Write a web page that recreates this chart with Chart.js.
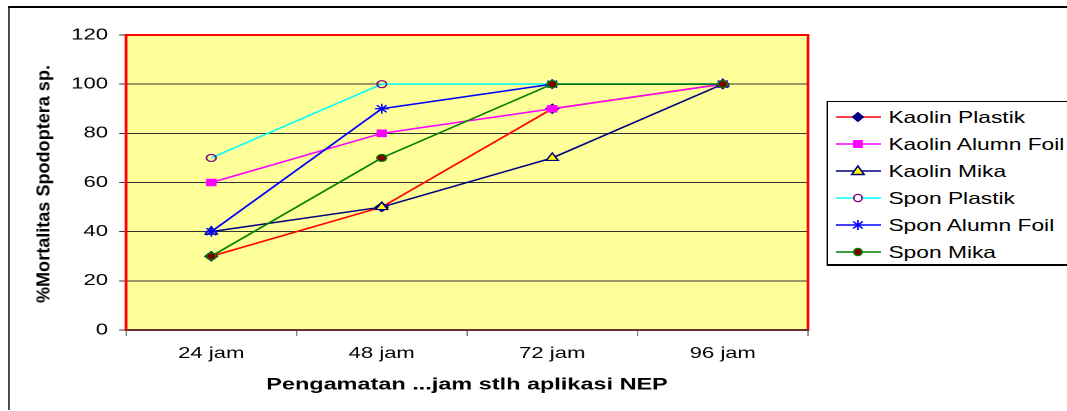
<!DOCTYPE html>
<html>
<head>
<meta charset="utf-8">
<script src="https://cdn.jsdelivr.net/npm/chart.js@4.4.0/dist/chart.umd.min.js"></script>
<style>
  html, body { margin: 0; padding: 0; background: #fff; overflow: hidden; }
  /* the original picture is stretched sideways, so draw narrow and stretch */
  #stage { position: absolute; left: 0; top: 0; width: 773px; height: 411px;
           transform: scaleX(1.38); transform-origin: 0 0;
           font-family: 'Liberation Sans', Arial, sans-serif; color: #000; }
  #frame { position: absolute; left: 5.8px; top: 6px; width: 800px; height: 402px;
           border-top: 2px solid #000; border-left: 1.5px solid #000; }
  #chartBox { position: absolute; left: 0; top: 0; width: 773px; height: 411px; }
  #ytitle { position: absolute; left: 31.2px; top: 184px; white-space: nowrap;
            font-weight: bold; font-size: 13px; line-height: 13px;
            transform: translate(-50%, -50%) rotate(-90deg) scaleX(1.39); }
  #legend { position: absolute; left: 598.6px; top: 101px; width: 200px; height: 162px;
            border: 1px solid #000; border-bottom-width: 2px; background: #fff; }
  .row { position: absolute; left: 0; height: 20px; width: 200px; }
  .row svg { position: absolute; left: 0; top: 0; }
  .row span { position: absolute; left: 44.2px; top: 0; line-height: 20px; font-size: 16.5px; white-space: nowrap; }
</style>
</head>
<body>
<div id="stage">
  <div id="frame"></div>
  <div id="chartBox"><canvas id="mortalitasChart"></canvas></div>
  <div id="ytitle">%Mortalitas Spodoptera sp.</div>
  <div id="legend"></div>
</div>
<script>
  const categories = ["24 jam", "48 jam", "72 jam", "96 jam"];
  const kaolinPlastik = [30, 50, 90, 100];
  const kaolinAlumnFoil = [60, 80, 90, 100];
  const kaolinMika = [40, 50, 70, 100];
  const sponPlastik = [70, 100, 100, 100];
  const sponAlumnFoil = [40, 90, 100, 100];
  const sponMika = [30, 70, 100, 100];
  const yMin = 0, yMax = 120, yStep = 20;

  const seriesList = [
    { name: "Kaolin Plastik", data: kaolinPlastik, line: "#ff0000", style: "rectRot", fill: "#000080", edge: "#000080", r: 4.5 },
    { name: "Kaolin Alumn Foil", data: kaolinAlumnFoil, line: "#ff00ff", style: "rect", fill: "#ff00ff", edge: "#ff00ff", r: 4.5 },
    { name: "Kaolin Mika", data: kaolinMika, line: "#000080", style: "triangle", fill: "#ffff00", edge: "#000080", r: 5 },
    { name: "Spon Plastik", data: sponPlastik, line: "#00ffff", style: "circle", fill: "rgba(0,0,0,0)", edge: "#800080", r: 3.5 },
    { name: "Spon Alumn Foil", data: sponAlumnFoil, line: "#0000ff", style: "star", fill: "#0000ff", edge: "#0000ff", r: 5 },
    { name: "Spon Mika", data: sponMika, line: "#008000", style: "circle", fill: "#800000", edge: "#008000", r: 3.5 },
  ];

  const plotFrame = {
    id: "plotFrame",
    beforeDraw(chart) {
      const { ctx, chartArea: a } = chart;
      ctx.save();
      ctx.fillStyle = "#ffff99";
      ctx.fillRect(a.left, a.top, a.right - a.left, a.bottom - a.top);
      ctx.restore();
    },
    beforeDatasetsDraw(chart) {
      const { ctx, chartArea: a } = chart;
      ctx.save();
      ctx.strokeStyle = "#ff0000";
      ctx.lineWidth = 2;
      ctx.strokeRect(a.left, a.top, a.right - a.left, a.bottom - a.top);
      ctx.strokeStyle = "#404040";
      ctx.lineWidth = 1.5;
      ctx.beginPath();
      ctx.moveTo(a.left, a.bottom);
      ctx.lineTo(a.right + 1, a.bottom);
      ctx.stroke();
      ctx.restore();
    },
  };

  const ctx = document.getElementById("mortalitasChart").getContext("2d");
  new Chart(ctx, {
    type: "line",
    data: {
      labels: categories,
      datasets: seriesList.map((s, i) => ({
        label: s.name,
        data: s.data,
        borderColor: s.line,
        borderWidth: 1.5,
        pointStyle: s.style,
        pointRadius: s.r,
        pointBackgroundColor: s.fill,
        pointBorderColor: s.edge,
        pointBorderWidth: 1.2,
        tension: 0,
        order: seriesList.length - i,
      })),
    },
    options: {
      responsive: true,
      maintainAspectRatio: false,
      animation: false,
      devicePixelRatio: 2,
      layout: { padding: { left: 0, top: 35, right: 187.5, bottom: 0 } },
      plugins: { legend: { display: false }, tooltip: { enabled: false } },
      scales: {
        x: {
          offset: true,
          grid: { display: true, drawOnChartArea: false, offset: true, tickLength: 6, color: "#808080" },
          border: { display: false },
          ticks: { color: "#000", padding: 8, font: { family: "'Liberation Sans', Arial", size: 16 } },
          title: {
            display: true,
            text: "Pengamatan ...jam stlh aplikasi NEP",
            color: "#000",
            font: { family: "'Liberation Sans', Arial", size: 17, weight: "bold" },
            padding: { top: 0, bottom: 16 },
          },
          afterFit(scale) { scale.height = 81; },
        },
        y: {
          min: yMin,
          max: yMax,
          grid: { color: "#333", tickLength: 5, lineWidth: 1 },
          border: { display: false },
          ticks: { stepSize: yStep, color: "#000", padding: 8, font: { family: "'Liberation Sans', Arial", size: 16 } },
          afterFit(scale) { scale.width = 91.3; },
        },
      },
    },
    plugins: [plotFrame],
  });

  // legend: line with the marker, then the name
  function markerSvg(s) {
    const cx = 21.7, cy = 10;
    let m = "";
    if (s.style === "rectRot") {
      m = `<polygon points="${cx},${cy - 4.5} ${cx + 4},${cy} ${cx},${cy + 4.5} ${cx - 4},${cy}" fill="${s.fill}" stroke="${s.edge}"/>`;
    } else if (s.style === "rect") {
      m = `<rect x="${cx - 3.5}" y="${cy - 4}" width="7" height="8" fill="${s.fill}"/>`;
    } else if (s.style === "triangle") {
      m = `<polygon points="${cx},${cy - 5} ${cx + 4.5},${cy + 3.5} ${cx - 4.5},${cy + 3.5}" fill="${s.fill}" stroke="${s.edge}" stroke-width="1.3"/>`;
    } else if (s.style === "circle") {
      m = `<ellipse cx="${cx}" cy="${cy}" rx="3" ry="3.6" fill="${s.fill === "rgba(0,0,0,0)" ? "#fff" : s.fill}" stroke="${s.edge}" stroke-width="1.2"/>`;
    } else if (s.style === "star") {
      m = `<g stroke="${s.edge}" stroke-width="1.2"><line x1="${cx}" y1="${cy - 5}" x2="${cx}" y2="${cy + 5}"/>` +
          `<line x1="${cx - 3.5}" y1="${cy - 3.5}" x2="${cx + 3.5}" y2="${cy + 3.5}"/>` +
          `<line x1="${cx - 3.5}" y1="${cy + 3.5}" x2="${cx + 3.5}" y2="${cy - 3.5}"/></g>`;
    }
    return `<svg width="44" height="20"><line x1="5.7" y1="${cy}" x2="38.4" y2="${cy}" stroke="${s.line}" stroke-width="1.5"/>${m}</svg>`;
  }

  const legendBox = document.getElementById("legend");
  seriesList.forEach((s, i) => {
    const row = document.createElement("div");
    row.className = "row";
    row.style.top = (5 + i * 27) + "px";
    row.innerHTML = markerSvg(s) + `<span>${s.name}</span>`;
    legendBox.appendChild(row);
  });
</script>
</body>
</html>
